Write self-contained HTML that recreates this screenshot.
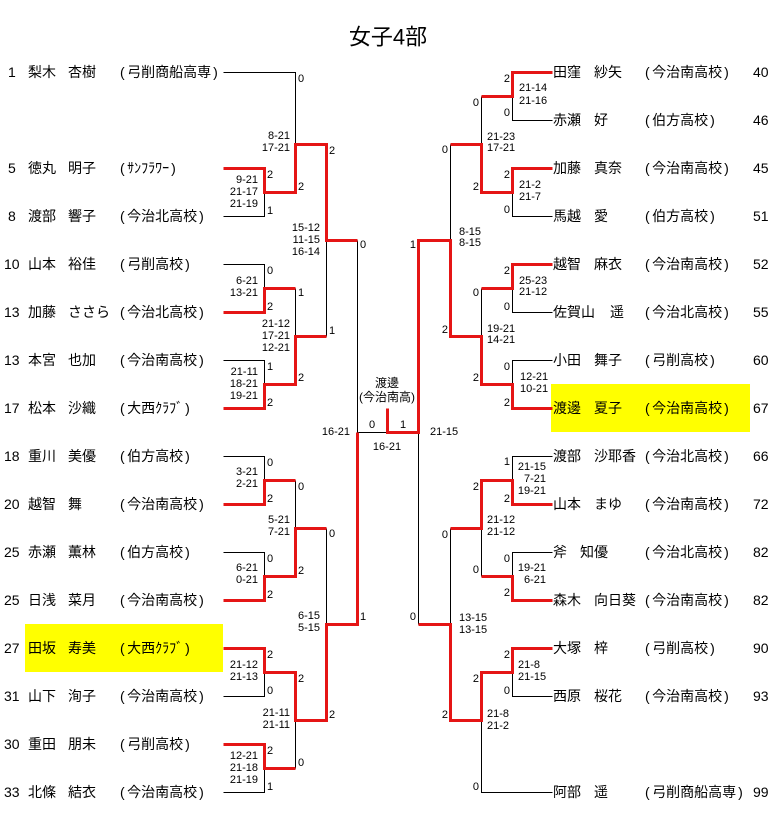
<!DOCTYPE html>
<html><head><meta charset="utf-8">
<style>
html,body{margin:0;padding:0;background:#fff;width:775px;height:829px;overflow:hidden}
svg{display:block}
text{font-family:"Liberation Sans","Noto Sans CJK JP",sans-serif;fill:#000}
.n{font-size:14px}
.s{font-size:11px}
.t{font-size:22px}
.c{font-size:12px}
</style></head><body>
<svg width="775" height="829" viewBox="0 0 775 829" xmlns="http://www.w3.org/2000/svg">
<rect x="0" y="0" width="775" height="829" fill="#fff"/>
<rect x="25" y="624" width="198" height="48" fill="#ffff00"/>
<rect x="551" y="384" width="199" height="48" fill="#ffff00"/>

<g transform="translate(0.5,0.5)" fill="none" stroke-linejoin="miter">
<path stroke="#000" stroke-width="1" d="
M223 72H295V144
M264 192V216H223
M223 264H264V288
M295 288V336
M326 240V336
M223 360H264V384
M357 240V432
M357 432H387
M223 456H264V480
M295 480V528
M223 552H264V576
M326 528V624
M264 672V696H223
M295 720V768
M264 768V792H223
M512 96V120H552
M481 96V144
M512 192V216H552
M450 144V240
M512 288V312H552
M481 288V336
M552 360H512V384
M418 432V624
M552 456H512V480
M481 528V576
M552 552H512V576
M450 528V624
M512 672V696H552
M481 720V792H552"/>
<path stroke="#e51515" stroke-width="3" d="
M223 168H264V192H295V144H326V240H357
M223 312H264V288H295
M223 408H264V384H295V336H326
M223 504H264V480H295
M223 600H264V576H295V528H326
M223 648H264V672H295V720H326V624H357V432
M223 744H264V768H295
M387 408V432H418V240H450V336H481V384H512V408H552
M552 72H512V96H481
M552 168H512V192H481V144H450
M552 264H512V288H481
M552 504H512V480H481V528H450
M552 600H512V576H481
M552 648H512V672H481V720H450V624H418"/>
</g>

<g dominant-baseline="central">
<text class="t" x="388" y="37" text-anchor="middle">女子4部</text>

<!-- Left names -->
<g class="n">
<text x="8" y="72">1</text><text x="28" y="72">梨木</text><text x="68" y="72">杏樹</text><text x="120" y="72">(<tspan dx="2.5">弓削商船高専</tspan><tspan dx="2">)</tspan></text>
<text x="8" y="168">5</text><text x="28" y="168">徳丸</text><text x="68" y="168">明子</text><text x="120" y="168">(<tspan dx="2.5">ｻﾝﾌﾗﾜｰ</tspan><tspan dx="2">)</tspan></text>
<text x="8" y="216">8</text><text x="28" y="216">渡部</text><text x="68" y="216">響子</text><text x="120" y="216">(<tspan dx="2.5">今治北高校</tspan><tspan dx="2">)</tspan></text>
<text x="4" y="264">10</text><text x="28" y="264">山本</text><text x="68" y="264">裕佳</text><text x="120" y="264">(<tspan dx="2.5">弓削高校</tspan><tspan dx="2">)</tspan></text>
<text x="4" y="312">13</text><text x="28" y="312">加藤</text><text x="68" y="312">ささら</text><text x="120" y="312">(<tspan dx="2.5">今治北高校</tspan><tspan dx="2">)</tspan></text>
<text x="4" y="360">13</text><text x="28" y="360">本宮</text><text x="68" y="360">也加</text><text x="120" y="360">(<tspan dx="2.5">今治南高校</tspan><tspan dx="2">)</tspan></text>
<text x="4" y="408">17</text><text x="28" y="408">松本</text><text x="68" y="408">沙織</text><text x="120" y="408">(<tspan dx="2.5">大西ｸﾗﾌﾞ</tspan><tspan dx="2">)</tspan></text>
<text x="4" y="456">18</text><text x="28" y="456">重川</text><text x="68" y="456">美優</text><text x="120" y="456">(<tspan dx="2.5">伯方高校</tspan><tspan dx="2">)</tspan></text>
<text x="4" y="504">20</text><text x="28" y="504">越智</text><text x="68" y="504">舞</text><text x="120" y="504">(<tspan dx="2.5">今治南高校</tspan><tspan dx="2">)</tspan></text>
<text x="4" y="552">25</text><text x="28" y="552">赤瀬</text><text x="68" y="552">薫林</text><text x="120" y="552">(<tspan dx="2.5">伯方高校</tspan><tspan dx="2">)</tspan></text>
<text x="4" y="600">25</text><text x="28" y="600">日浅</text><text x="68" y="600">菜月</text><text x="120" y="600">(<tspan dx="2.5">今治南高校</tspan><tspan dx="2">)</tspan></text>
<text x="4" y="648">27</text><text x="28" y="648">田坂</text><text x="68" y="648">寿美</text><text x="120" y="648">(<tspan dx="2.5">大西ｸﾗﾌﾞ</tspan><tspan dx="2">)</tspan></text>
<text x="4" y="696">31</text><text x="28" y="696">山下</text><text x="68" y="696">洵子</text><text x="120" y="696">(<tspan dx="2.5">今治南高校</tspan><tspan dx="2">)</tspan></text>
<text x="4" y="744">30</text><text x="28" y="744">重田</text><text x="68" y="744">朋未</text><text x="120" y="744">(<tspan dx="2.5">弓削高校</tspan><tspan dx="2">)</tspan></text>
<text x="4" y="792">33</text><text x="28" y="792">北條</text><text x="68" y="792">結衣</text><text x="120" y="792">(<tspan dx="2.5">今治南高校</tspan><tspan dx="2">)</tspan></text>
</g>

<!-- Right names -->
<g class="n">
<text x="553" y="72">田窪</text><text x="594" y="72">紗矢</text><text x="645" y="72">(<tspan dx="2.5">今治南高校</tspan><tspan dx="2">)</tspan></text><text x="753" y="72">40</text>
<text x="553" y="120">赤瀬</text><text x="594" y="120">好</text><text x="645" y="120">(<tspan dx="2.5">伯方高校</tspan><tspan dx="2">)</tspan></text><text x="753" y="120">46</text>
<text x="553" y="168">加藤</text><text x="594" y="168">真奈</text><text x="645" y="168">(<tspan dx="2.5">今治南高校</tspan><tspan dx="2">)</tspan></text><text x="753" y="168">45</text>
<text x="553" y="216">馬越</text><text x="594" y="216">愛</text><text x="645" y="216">(<tspan dx="2.5">伯方高校</tspan><tspan dx="2">)</tspan></text><text x="753" y="216">51</text>
<text x="553" y="264">越智</text><text x="594" y="264">麻衣</text><text x="645" y="264">(<tspan dx="2.5">今治南高校</tspan><tspan dx="2">)</tspan></text><text x="753" y="264">52</text>
<text x="553" y="312">佐賀山</text><text x="610" y="312">遥</text><text x="645" y="312">(<tspan dx="2.5">今治北高校</tspan><tspan dx="2">)</tspan></text><text x="753" y="312">55</text>
<text x="553" y="360">小田</text><text x="594" y="360">舞子</text><text x="645" y="360">(<tspan dx="2.5">弓削高校</tspan><tspan dx="2">)</tspan></text><text x="753" y="360">60</text>
<text x="553" y="408">渡邊</text><text x="594" y="408">夏子</text><text x="645" y="408">(<tspan dx="2.5">今治南高校</tspan><tspan dx="2">)</tspan></text><text x="753" y="408">67</text>
<text x="553" y="456">渡部</text><text x="594" y="456">沙耶香</text><text x="645" y="456">(<tspan dx="2.5">今治北高校</tspan><tspan dx="2">)</tspan></text><text x="753" y="456">66</text>
<text x="553" y="504">山本</text><text x="594" y="504">まゆ</text><text x="645" y="504">(<tspan dx="2.5">今治南高校</tspan><tspan dx="2">)</tspan></text><text x="753" y="504">72</text>
<text x="553" y="552">斧</text><text x="580" y="552">知優</text><text x="645" y="552">(<tspan dx="2.5">今治北高校</tspan><tspan dx="2">)</tspan></text><text x="753" y="552">82</text>
<text x="553" y="600">森木</text><text x="594" y="600">向日葵</text><text x="645" y="600">(<tspan dx="2.5">今治南高校</tspan><tspan dx="2">)</tspan></text><text x="753" y="600">82</text>
<text x="553" y="648">大塚</text><text x="594" y="648">梓</text><text x="645" y="648">(<tspan dx="2.5">弓削高校</tspan><tspan dx="2">)</tspan></text><text x="753" y="648">90</text>
<text x="553" y="696">西原</text><text x="594" y="696">桜花</text><text x="645" y="696">(<tspan dx="2.5">今治南高校</tspan><tspan dx="2">)</tspan></text><text x="753" y="696">93</text>
<text x="553" y="792">阿部</text><text x="594" y="792">遥</text><text x="645" y="792">(<tspan dx="2.5">弓削商船高専</tspan><tspan dx="2">)</tspan></text><text x="753" y="792">99</text>
</g>

<!-- Left game counts -->
<g class="s">
<text x="298" y="79">0</text><text x="267" y="175">2</text><text x="267" y="211">1</text><text x="298" y="187">2</text>
<text x="329" y="151">2</text><text x="329" y="331">1</text><text x="360" y="245">0</text><text x="360" y="617">1</text>
<text x="267" y="271">0</text><text x="267" y="307">2</text><text x="298" y="293">1</text><text x="298" y="378">2</text>
<text x="267" y="367">1</text><text x="267" y="403">2</text>
<text x="267" y="463">0</text><text x="267" y="499">2</text><text x="298" y="487">0</text><text x="298" y="571">2</text>
<text x="267" y="559">0</text><text x="267" y="595">2</text><text x="329" y="534">0</text><text x="329" y="715">2</text>
<text x="267" y="655">2</text><text x="267" y="691">0</text><text x="298" y="679">2</text><text x="298" y="763">0</text>
<text x="267" y="751">2</text><text x="267" y="787">1</text>
</g>

<!-- Right game counts -->
<g class="s" text-anchor="end">
<text x="510" y="79">2</text><text x="510" y="113">0</text><text x="510" y="175">2</text><text x="510" y="210">0</text>
<text x="510" y="271">2</text><text x="510" y="307">0</text><text x="510" y="367">0</text><text x="510" y="403">2</text>
<text x="510" y="462">1</text><text x="510" y="499">2</text><text x="510" y="559">0</text><text x="510" y="593">2</text>
<text x="510" y="655">2</text><text x="510" y="691">0</text>
<text x="479" y="103">0</text><text x="479" y="187">2</text><text x="479" y="293">0</text><text x="479" y="378">2</text>
<text x="479" y="487">2</text><text x="479" y="570">0</text><text x="479" y="679">2</text><text x="479" y="787">0</text>
<text x="448" y="150">0</text><text x="448" y="330">2</text><text x="448" y="535">0</text><text x="448" y="715">2</text>
<text x="416" y="245">1</text><text x="416" y="617">0</text>
</g>

<!-- Left scores -->
<g class="s" text-anchor="end">
<text x="258" y="180">9-21</text><text x="258" y="192">21-17</text><text x="258" y="204">21-19</text>
<text x="290" y="136">8-21</text><text x="290" y="148">17-21</text>
<text x="320" y="228">15-12</text><text x="320" y="240">11-15</text><text x="320" y="252">16-14</text>
<text x="258" y="281">6-21</text><text x="258" y="293">13-21</text>
<text x="290" y="324">21-12</text><text x="290" y="336">17-21</text><text x="290" y="348">12-21</text>
<text x="258" y="372">21-11</text><text x="258" y="384">18-21</text><text x="258" y="396">19-21</text>
<text x="350" y="432">16-21</text>
<text x="258" y="472">3-21</text><text x="258" y="484">2-21</text>
<text x="290" y="520">5-21</text><text x="290" y="532">7-21</text>
<text x="258" y="568">6-21</text><text x="258" y="580">0-21</text>
<text x="320" y="616">6-15</text><text x="320" y="628">5-15</text>
<text x="258" y="665">21-12</text><text x="258" y="677">21-13</text>
<text x="290" y="713">21-11</text><text x="290" y="725">21-11</text>
<text x="258" y="756">12-21</text><text x="258" y="768">21-18</text><text x="258" y="780">21-19</text>
<text x="546" y="467">21-15</text><text x="546" y="479">7-21</text><text x="546" y="491">19-21</text>
<text x="546" y="568">19-21</text><text x="546" y="580">6-21</text>
</g>

<!-- Right scores -->
<g class="s">
<text x="519" y="88">21-14</text><text x="519" y="101">21-16</text>
<text x="519" y="185">21-2</text><text x="519" y="197">21-7</text>
<text x="487" y="137">21-23</text><text x="487" y="148">17-21</text>
<text x="459" y="232">8-15</text><text x="459" y="243">8-15</text>
<text x="519" y="281">25-23</text><text x="519" y="292">21-12</text>
<text x="487" y="329">19-21</text><text x="487" y="340">14-21</text>
<text x="520" y="377">12-21</text><text x="520" y="389">10-21</text>
<text x="430" y="432">21-15</text>
<text x="487" y="520">21-12</text><text x="487" y="532">21-12</text>
<text x="459" y="618">13-15</text><text x="459" y="630">13-15</text>
<text x="518" y="665">21-8</text><text x="518" y="677">21-15</text>
<text x="487" y="714">21-8</text><text x="487" y="726">21-2</text>
</g>

<!-- Center -->
<g text-anchor="middle">
<text class="s" x="372" y="425">0</text>
<text class="s" x="403" y="425">1</text>
<text class="s" x="387" y="447">16-21</text>
<text class="c" x="387" y="383">渡邊</text>
<text class="c" x="387" y="397">(今治南高)</text>
</g>
</g>
</svg>
</body></html>
